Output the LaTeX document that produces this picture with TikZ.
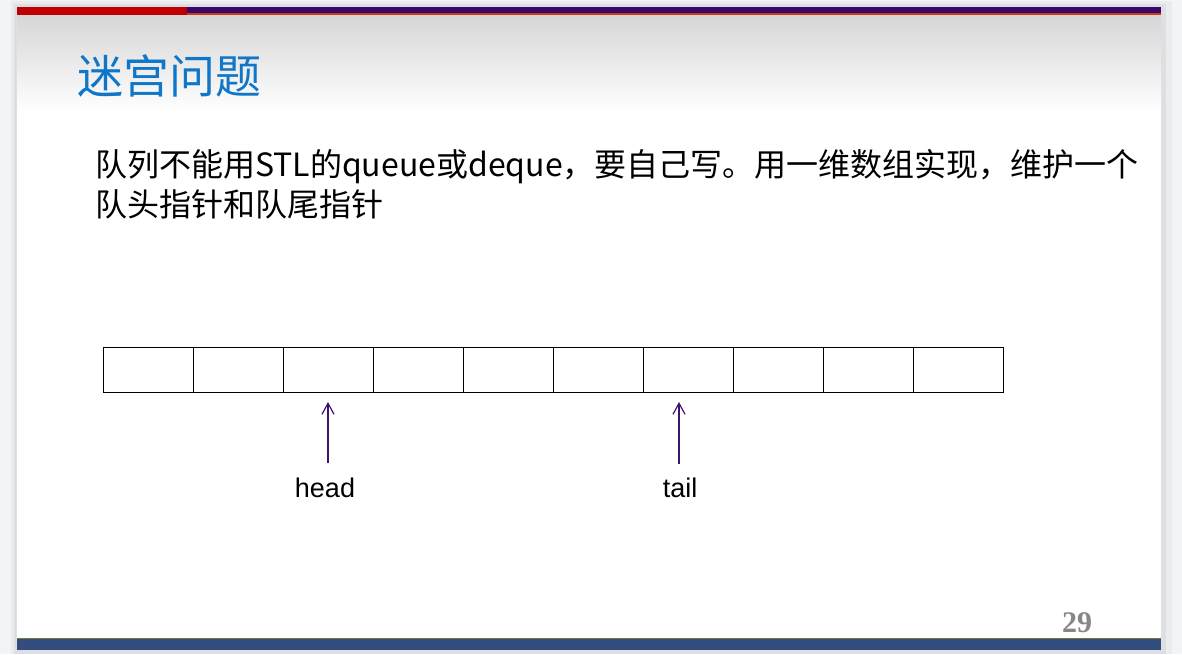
\documentclass[tikz,border=0pt]{standalone}
\usepackage{fontspec}
\newfontfamily\cjkfont{Noto Sans CJK SC}
\newfontfamily\lblfont{Liberation Sans}
\newfontfamily\pagefont{Liberation Serif}
\usepackage{xcolor}
\usepackage{tikz}
\usetikzlibrary{positioning,arrows.meta}

\definecolor{pagegray}{RGB}{243,244,247}
\definecolor{shadowgray}{RGB}{222,223,226}
\definecolor{headgray}{RGB}{214,214,214}
\definecolor{barred}{RGB}{192,0,0}
\definecolor{barpurple}{RGB}{55,8,105}
\definecolor{barorange}{RGB}{200,60,20}
\definecolor{barblue}{RGB}{50,77,126}
\definecolor{barolive}{RGB}{120,120,40}
\definecolor{titleblue}{RGB}{16,118,200}
\definecolor{ptrpurple}{RGB}{60,20,110}
\definecolor{numgray}{RGB}{135,135,135}

\tikzset{
	cell/.style={draw=black, line width=1pt, minimum width=90pt, minimum height=45pt, inner sep=0pt, outer sep=0pt},
	ptr/.style={-{Straight Barb[length=11pt,width=12pt]}, draw=ptrpurple, line width=1.2pt},
	ptrlabel/.style={font=\lblfont\fontsize{27}{27}\selectfont, inner sep=0pt},
	bodyline/.style={anchor=base west, inner sep=0pt, font=\cjkfont\fontsize{32}{40}\selectfont},
}

\begin{document}
\begin{tikzpicture}[x=1pt,y=-1pt]
		\useasboundingbox (0,0) rectangle (1182,654);
		% page and slide
		\fill[pagegray] (0,0) rectangle (1182,654);
		\fill[shadowgray!60] (11,1) rectangle (1172,654);
		\fill[shadowgray] (14,4) rectangle (1166,654);
		\fill[white] (17,7) rectangle (1161,650);
		\shade[top color=headgray, bottom color=white] (17,15) rectangle (1161,112);
		
		% top and bottom bars
		\fill[barred] (17,7) rectangle (187,15);
		\fill[barpurple] (187,7) rectangle (1161,13);
		\fill[barorange] (187,13) rectangle (1161,15);
		\fill[barblue] (17,638) rectangle (1161,650);
		\draw[barolive, line width=0.8pt] (17,638) -- (1161,638);
		
		\node[anchor=base west, inner sep=0pt, text=titleblue, font=\cjkfont\fontsize{46}{46}\selectfont] (title) at (77,93) {迷宫问题};
		\node[bodyline] (line1) at (95,176) {队列不能用STL的queue或deque，要自己写。用一维数组实现，维护一个};
		\node[bodyline] (line2) at (95,216) {队头指针和队尾指针};
		
		% the array
		\node[cell, anchor=north west] (c0) at (103,347) {};
		\node[cell, right=0pt of c0] (c1) {};
		\node[cell, right=0pt of c1] (c2) {};
		\node[cell, right=0pt of c2] (c3) {};
		\node[cell, right=0pt of c3] (c4) {};
		\node[cell, right=0pt of c4] (c5) {};
		\node[cell, right=0pt of c5] (c6) {};
		\node[cell, right=0pt of c6] (c7) {};
		\node[cell, right=0pt of c7] (c8) {};
		\node[cell, right=0pt of c8] (c9) {};
		
		% pointers
		\node[ptrlabel] (headtxt) at (325,488) {head};
		\node[ptrlabel] (tailtxt) at (680,488) {tail};
		\coordinate (headtip) at (328,402);
		\coordinate (headend) at (328,463);
		\coordinate (tailtip) at (679,402);
		\coordinate (tailend) at (679,464);
		\draw[ptr] (headend) -- (headtip);
		\draw[ptr] (tailend) -- (tailtip);
		
		\node[anchor=base, inner sep=0pt, text=numgray, font=\pagefont\bfseries\fontsize{30}{30}\selectfont] (pagenum) at (1077,632) {29};
	\end{tikzpicture}
\end{document}
